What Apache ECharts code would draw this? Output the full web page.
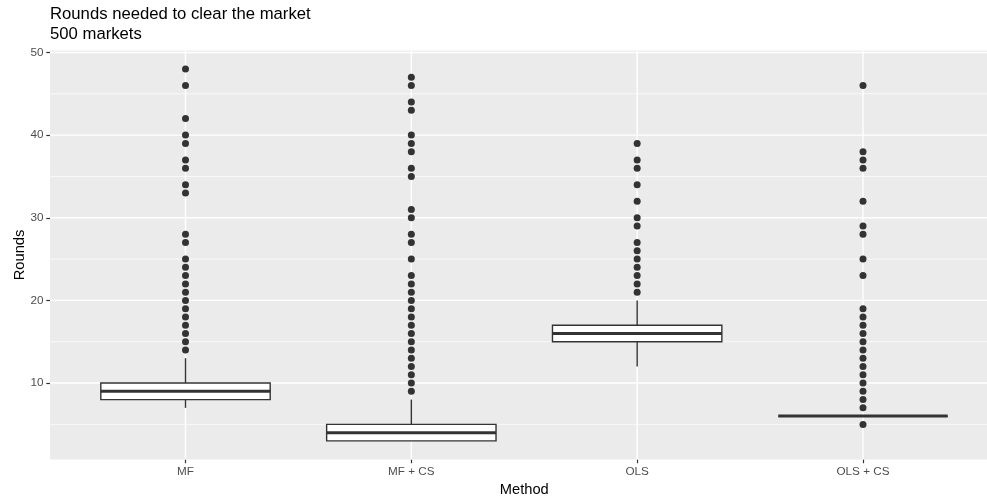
<!DOCTYPE html>
<html>
<head>
<meta charset="utf-8">
<script src="https://cdn.jsdelivr.net/npm/echarts@6/dist/echarts.min.js"></script>
<style>
  html, body { margin: 0; padding: 0; background: #fff; }
  #chart { width: 987px; height: 497px; }
</style>
</head>
<body>
<div id="chart"></div>
<script>
// Estimation methods on the x axis
const methods = ['MF', 'MF + CS', 'OLS', 'OLS + CS'];

// Five-number summaries: lower whisker, Q1, median, Q3, upper whisker
const boxMF    = [7, 8, 9, 10, 13];
const boxMFCS  = [3, 3, 4, 5, 8];
const boxOLS   = [12, 15, 16, 17, 20];
const boxOLSCS = [6, 6, 6, 6, 6];

// Outlying rounds per method
const outMF    = [48, 46, 42, 40, 39, 37, 36, 34, 33, 28, 27, 25, 24, 23, 22, 21, 20, 19, 18, 17, 16, 15, 14];
const outMFCS  = [47, 46, 44, 43, 40, 39, 38, 36, 35, 31, 30, 28, 27, 25, 23, 22, 21, 20, 19, 18, 17, 16, 15, 14, 13, 12, 11, 10, 9];
const outOLS   = [39, 37, 36, 34, 32, 30, 29, 27, 26, 25, 24, 23, 22, 21];
const outOLSCS = [46, 38, 37, 36, 32, 29, 28, 25, 23, 19, 18, 17, 16, 15, 14, 13, 12, 11, 10, 9, 8, 7, 5];

// Axis breaks
const yTicks = [10, 20, 30, 40, 50];
const yMinor = [5, 15, 25, 35, 45];
const xTicks = [1, 2, 3, 4];

const Y_MIN = 0.75, Y_MAX = 50.25;
const X_MIN = 0.4, X_MAX = 4.6;
const BOX_WIDTH = 0.75;

const FONT = '"Liberation Sans", Arial, Helvetica, sans-serif';
const INK = '#333333';

const boxes = [boxMF, boxMFCS, boxOLS, boxOLSCS];
const outliers = [outMF, outMFCS, outOLS, outOLSCS];

const boxData = boxes.map((b, i) => [xTicks[i]].concat(b));
const outlierData = [];
outliers.forEach((arr, i) => arr.forEach(v => outlierData.push([xTicks[i], v])));

// Horizontal grid lines drawn across the whole panel
function hLines(width) {
  return function (params, api) {
    const cs = params.coordSys;
    const y = api.coord([X_MIN, api.value(0)])[1];
    return {
      type: 'line',
      shape: { x1: cs.x, y1: y, x2: cs.x + cs.width, y2: y },
      style: { stroke: '#ffffff', lineWidth: width },
      silent: true
    };
  };
}

// Vertical grid lines at each method
function vLines(params, api) {
  const cs = params.coordSys;
  const x = api.coord([api.value(0), Y_MIN])[0];
  return {
    type: 'line',
    shape: { x1: x, y1: cs.y, x2: x, y2: cs.y + cs.height },
    style: { stroke: '#ffffff', lineWidth: 1.4 },
    silent: true
  };
}

// Box, whiskers and median for one method
function renderBox(params, api) {
  const x = api.value(0);
  const lo = api.value(1), q1 = api.value(2), med = api.value(3), q3 = api.value(4), hi = api.value(5);
  const half = api.size([BOX_WIDTH, 0])[0] / 2;
  const cx = api.coord([x, med])[0];
  const yLo = api.coord([x, lo])[1];
  const yQ1 = api.coord([x, q1])[1];
  const yMed = api.coord([x, med])[1];
  const yQ3 = api.coord([x, q3])[1];
  const yHi = api.coord([x, hi])[1];
  const lineStyle = { stroke: INK, lineWidth: 1.4 };
  return {
    type: 'group',
    children: [
      { type: 'line', shape: { x1: cx, y1: yHi, x2: cx, y2: yQ3 }, style: lineStyle },
      { type: 'line', shape: { x1: cx, y1: yQ1, x2: cx, y2: yLo }, style: lineStyle },
      {
        type: 'rect',
        shape: { x: cx - half, y: yQ3, width: half * 2, height: yQ1 - yQ3 },
        style: { fill: '#ffffff', stroke: INK, lineWidth: 1.4 }
      },
      { type: 'line', shape: { x1: cx - half, y1: yMed, x2: cx + half, y2: yMed }, style: { stroke: INK, lineWidth: 3 } }
    ]
  };
}

const chart = echarts.init(document.getElementById('chart'), null, { renderer: 'canvas' });

chart.setOption({
  animation: false,
  backgroundColor: '#ffffff',
  textStyle: { fontFamily: FONT },
  title: {
    text: 'Rounds needed to clear the market',
    subtext: '500 markets',
    left: 45,
    top: 0.5,
    itemGap: 3.5,
    textStyle: { fontFamily: FONT, fontSize: 16.7, fontWeight: 'normal', color: '#000000' },
    subtextStyle: { fontFamily: FONT, fontSize: 16.7, color: '#000000' }
  },
  grid: {
    left: 50,
    right: -11.5,
    top: 50.4,
    bottom: 37.5,
    containLabel: false,
    outerBoundsMode: 'none',
    show: true,
    backgroundColor: '#EBEBEB',
    borderWidth: 0
  },
  xAxis: {
    type: 'value',
    min: X_MIN,
    max: X_MAX,
    splitLine: { show: false },
    axisLine: { show: false },
    axisTick: { show: true, customValues: xTicks, length: 3.7, lineStyle: { color: INK, width: 1.2 } },
    axisLabel: {
      customValues: xTicks,
      formatter: v => methods[Math.round(v) - 1],
      color: '#4D4D4D',
      fontSize: 11.7,
      fontFamily: FONT,
      margin: 6.6
    },
    name: 'Method',
    nameLocation: 'middle',
    nameGap: 23,
    nameMoveOverlap: false,
    nameTextStyle: { fontFamily: FONT, fontSize: 14.7, color: '#000000' }
  },
  yAxis: {
    type: 'value',
    min: Y_MIN,
    max: Y_MAX,
    splitLine: { show: false },
    axisLine: { show: false },
    axisTick: { show: true, customValues: yTicks, length: 3.7, lineStyle: { color: INK, width: 1.2 } },
    axisLabel: {
      customValues: yTicks,
      color: '#4D4D4D',
      fontSize: 11.7,
      fontFamily: FONT,
      margin: 6.6
    },
    name: 'Rounds',
    nameLocation: 'middle',
    nameGap: 23,
    nameRotate: 90,
    nameMoveOverlap: false,
    nameTextStyle: { fontFamily: FONT, fontSize: 14.7, color: '#000000' }
  },
  series: [
    {
      type: 'custom',
      z: 1,
      renderItem: hLines(0.7),
      encode: { y: 0 },
      data: yMinor.map(v => [v]),
      silent: true
    },
    {
      type: 'custom',
      z: 1,
      renderItem: hLines(1.4),
      encode: { y: 0 },
      data: yTicks.map(v => [v]),
      silent: true
    },
    {
      type: 'custom',
      z: 1,
      renderItem: vLines,
      encode: { x: 0 },
      data: xTicks.map(v => [v]),
      silent: true
    },
    {
      type: 'custom',
      z: 3,
      renderItem: renderBox,
      encode: { x: 0, y: [1, 2, 3, 4, 5] },
      data: boxData
    },
    {
      type: 'scatter',
      z: 4,
      symbol: 'circle',
      symbolSize: 7,
      itemStyle: { color: INK, opacity: 1 },
      data: outlierData
    }
  ]
});
</script>
</body>
</html>
